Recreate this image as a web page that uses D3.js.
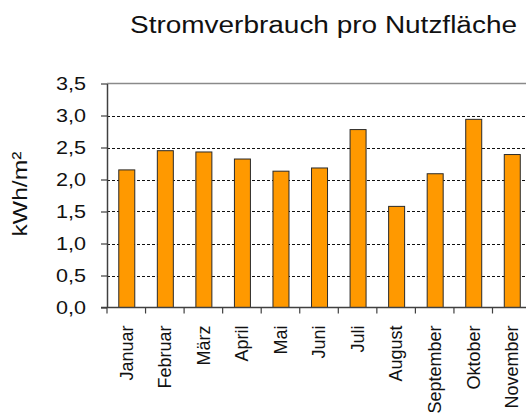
<!DOCTYPE html>
<html>
<head>
<meta charset="utf-8">
<script src="https://cdn.jsdelivr.net/npm/d3@7"></script>
<style>
  html, body { margin: 0; padding: 0; background: #fff; }
  svg { display: block; font-family: "Liberation Sans", Arial, sans-serif; }
</style>
</head>
<body>
<div id="chart"></div>
<script>
// data (Dezember is cut off at the right edge)
const months = ["Januar", "Februar", "März", "April", "Mai", "Juni", "Juli",
  "August", "September", "Oktober", "November"];
const values = [2.15, 2.45, 2.43, 2.32, 2.13, 2.18, 2.78, 1.58, 2.09, 2.94, 2.39];
const yTicks = [0, 0.5, 1.0, 1.5, 2.0, 2.5, 3.0, 3.5];

const width = 526;
const height = 417;
const margin = { top: 83.5, left: 107, bottom: 307.5 };
const band = 38.55;

const svg = d3.select("#chart")
  .append("svg")
  .attr("width", width)
  .attr("height", height);

const x = d3.scaleBand()
  .domain(months)
  .range([margin.left, margin.left + band * months.length])
  .paddingInner(0.585)
  .paddingOuter(0.2925);

const y = d3.scaleLinear()
  .domain([0, 3.5])
  .range([margin.bottom, margin.top]);

const fmt = (d) => d3.format(".1f")(d).replace(".", ",");

// grid lines
svg.append("g")
  .selectAll("line")
  .data(yTicks.filter((d) => d > 0 && d < 3.5))
  .join("line")
  .attr("x1", margin.left)
  .attr("x2", width)
  .attr("y1", (d) => Math.round(y(d)) + 0.5)
  .attr("y2", (d) => Math.round(y(d)) + 0.5)
  .attr("stroke", "#111")
  .attr("stroke-width", 1)
  .attr("stroke-dasharray", "3,2");

// top border of plot area
svg.append("line")
  .attr("x1", margin.left)
  .attr("x2", width)
  .attr("y1", y(3.5))
  .attr("y2", y(3.5))
  .attr("stroke", "#8a8a8a")
  .attr("stroke-width", 1.5);

// bars
svg.append("g")
  .selectAll("rect")
  .data(values)
  .join("rect")
  .attr("x", (d, i) => x(months[i]) + 0.5)
  .attr("y", (d) => y(d))
  .attr("width", x.bandwidth())
  .attr("height", (d) => y(0) - y(d))
  .attr("fill", "#ff9900")
  .attr("stroke", "#2a2a2a")
  .attr("stroke-width", 1);

// y axis
const yAxis = svg.append("g")
  .attr("transform", `translate(${margin.left},0)`)
  .call(d3.axisLeft(y).tickValues(yTicks).tickFormat(fmt)
    .tickSize(6).tickPadding(15).tickSizeOuter(0));
yAxis.select(".domain").attr("stroke", "#404040").attr("stroke-width", 1.5);
yAxis.selectAll(".tick line").attr("stroke", "#404040").attr("stroke-width", 1.2);
yAxis.selectAll(".tick text")
  .attr("font-size", 18.5)
  .attr("font-family", "Liberation Sans, Arial, sans-serif")
  .attr("fill", "#111")
  .attr("textLength", 30)
  .attr("lengthAdjust", "spacingAndGlyphs");

// x axis (ticks at category boundaries)
const xLine = svg.append("g");
xLine.append("line")
  .attr("x1", margin.left - 6)
  .attr("x2", width)
  .attr("y1", y(0))
  .attr("y2", y(0))
  .attr("stroke", "#404040")
  .attr("stroke-width", 1.5);
xLine.selectAll(".sep")
  .data(months)
  .join("line")
  .attr("class", "sep")
  .attr("x1", (d) => x(d) - x.step() * x.paddingOuter())
  .attr("x2", (d) => x(d) - x.step() * x.paddingOuter())
  .attr("y1", y(0))
  .attr("y2", y(0) + 6)
  .attr("stroke", "#404040")
  .attr("stroke-width", 1.2);

const xAxis = svg.append("g")
  .attr("transform", `translate(0,${y(0)})`)
  .call(d3.axisBottom(x).tickSize(0).tickPadding(0));
xAxis.select(".domain").remove();
xAxis.selectAll(".tick text")
  .attr("font-size", 18)
  .attr("font-family", "Liberation Sans, Arial, sans-serif")
  .attr("fill", "#111")
  .attr("transform", "rotate(-90)")
  .attr("text-anchor", "end")
  .attr("x", -18)
  .attr("y", 0)
  .attr("dy", "0.35em");

// axis title
svg.append("text")
  .attr("transform", `translate(26.5,194) rotate(-90)`)
  .attr("text-anchor", "middle")
  .attr("font-size", 20)
  .attr("fill", "#111")
  .attr("textLength", 85)
  .attr("lengthAdjust", "spacingAndGlyphs")
  .text("kWh/m²");

// chart title
svg.append("text")
  .attr("x", 130)
  .attr("y", 33)
  .attr("font-size", 23)
  .attr("fill", "#111")
  .attr("textLength", 387)
  .attr("lengthAdjust", "spacingAndGlyphs")
  .text("Stromverbrauch pro Nutzfläche");
</script>
</body>
</html>
